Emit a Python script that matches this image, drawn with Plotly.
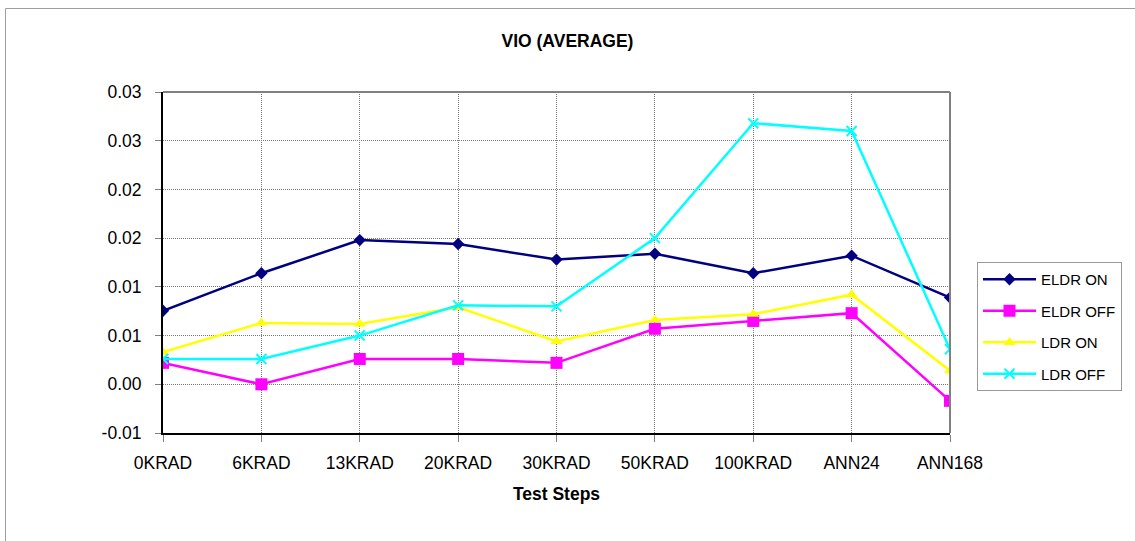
import plotly.graph_objects as go

categories = ["0KRAD", "6KRAD", "13KRAD", "20KRAD", "30KRAD", "50KRAD", "100KRAD", "ANN24", "ANN168"]
eldr_on = [0.00755, 0.0114, 0.0148, 0.0144, 0.0128, 0.0134, 0.0114, 0.0132, 0.0089]
eldr_off = [0.0022, 0.0000, 0.0026, 0.0026, 0.0022, 0.0057, 0.0065, 0.0073, -0.0017]
ldr_on = [0.0033, 0.0063, 0.0062, 0.0079, 0.0044, 0.0066, 0.0072, 0.0092, 0.0014]
ldr_off = [0.0026, 0.0026, 0.0050, 0.0081, 0.0080, 0.0150, 0.0268, 0.0260, 0.0036]
y_tickvals = [-0.005, 0.0, 0.005, 0.010, 0.015, 0.020, 0.025, 0.030]
y_ticktext = ["-0.01", "0.00", "0.01", "0.01", "0.02", "0.02", "0.03", "0.03"]

FONT = "Liberation Sans, Arial, sans-serif"
FS = 17.5

fig = go.Figure()
series = [
    ("ELDR ON", eldr_on, "#000080", "diamond", 9.5, 0),
    ("ELDR OFF", eldr_off, "#FF00FF", "square", 12, 0),
    ("LDR ON", ldr_on, "#FFFF00", "triangle-up", 10.5, 0),
    ("LDR OFF", ldr_off, "#00FFFF", "x-thin", 10, 2),
]
for name, vals, color, sym, size, lw in series:
    fig.add_trace(go.Scatter(
        x=categories, y=vals, name=name, mode="lines+markers",
        legendgroup=name,
        line=dict(color=color, width=2.5),
        marker=dict(symbol=sym, size=size, color=color,
                    line=dict(color=color, width=lw)),
    ))

GRID = dict(showgrid=True, gridcolor="#7a7a7a", gridwidth=1, griddash="1px,1px")

fig.update_layout(
    width=1135, height=541,
    margin=dict(l=163, r=185, t=92, b=108),
    paper_bgcolor="white", plot_bgcolor="white",
    font=dict(family=FONT, size=FS, color="black"),
    title=dict(text="<b>VIO (AVERAGE)</b>", x=0.5, xref="container",
               y=1 - 41 / 541, yref="container", yanchor="middle",
               font=dict(family=FONT, size=FS, color="black")),
    showlegend=True,
    legend=dict(x=(977 - 163) / 787, y=(433 - 262) / 341, xanchor="left", yanchor="top",
                bordercolor="#9a9a9a", borderwidth=1, bgcolor="white",
                font=dict(family=FONT, size=15), tracegroupgap=9,
                traceorder="grouped", itemwidth=53),
    xaxis=dict(
        type="category", range=[0, 8],
        **GRID,
        showline=True, linecolor="black", linewidth=2,
        ticks="outside", ticklen=7, tickcolor="#808080",
        ticklabelstandoff=6,
        tickfont=dict(family=FONT, size=FS),
        title=dict(text="<b>Test Steps</b>", font=dict(family=FONT, size=FS), standoff=16),
        mirror=False, zeroline=False,
    ),
    yaxis=dict(
        range=[-0.005, 0.030],
        tickvals=y_tickvals, ticktext=y_ticktext,
        **GRID,
        showline=True, linecolor="black", linewidth=2,
        ticks="outside", ticklen=6, tickcolor="#808080",
        ticklabelstandoff=10,
        tickfont=dict(family=FONT, size=FS),
        zeroline=False,
    ),
    shapes=[
        dict(type="line", xref="paper", yref="paper", x0=0, x1=1, y0=1, y1=1,
             line=dict(color="#808080", width=2)),
        dict(type="line", xref="paper", yref="paper", x0=1, x1=1, y0=0, y1=1,
             line=dict(color="#808080", width=2)),
        dict(type="rect", xref="paper", yref="paper",
             x0=(5.5 - 163) / 787, x1=(1145 - 163) / 787,
             y0=(433 - 560) / 341, y1=(433 - 8.5) / 341,
             line=dict(color="#a0a0a0", width=1)),
    ],
)

fig.write_html("out.html", config={"displayModeBar": False},
               post_script="document.body.style.margin='0';")
